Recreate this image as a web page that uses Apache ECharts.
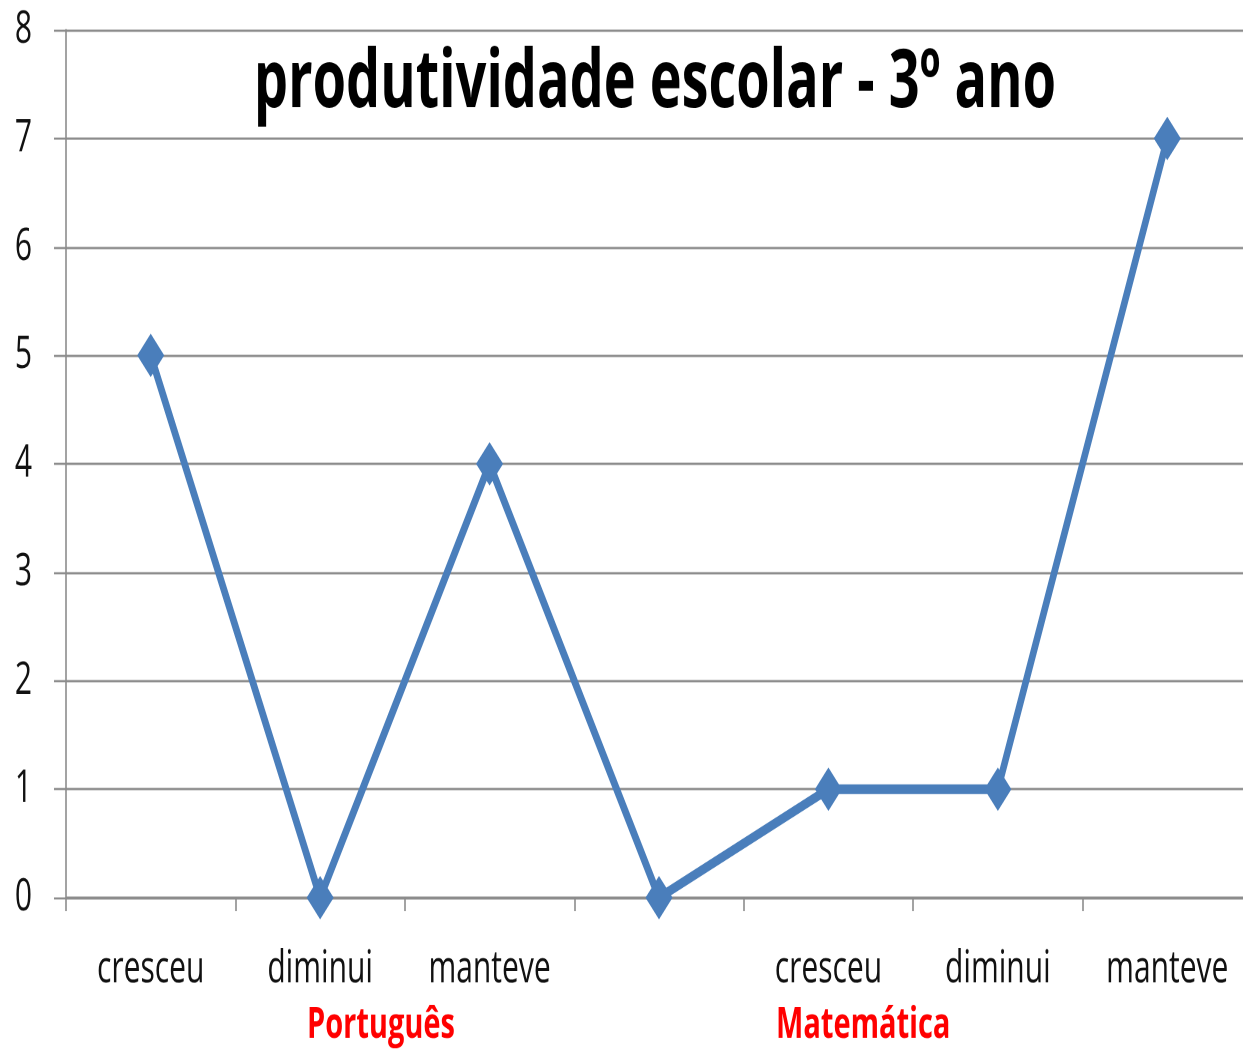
<!DOCTYPE html>
<html>
<head>
<meta charset="utf-8">
<script src="https://cdn.jsdelivr.net/npm/echarts@6/dist/echarts.min.js"></script>
<style>
  html, body { margin: 0; padding: 0; background: #fff; overflow: hidden; }
  #wrap { width: 1243px; height: 1049px; overflow: hidden; }
  /* the source picture is stretched vertically, so draw flat and stretch;
     the plot runs a few pixels past the right edge */
  #chart { width: 1252px; height: 700px; transform: scaleY(1.4986); transform-origin: 0 0; }
</style>
</head>
<body>
<div id="wrap"><div id="chart"></div></div>
<script>
var categories = ["cresceu", "diminui", "manteve", "", "cresceu", "diminui", "manteve"];
var values = [5, 0, 4, 0, 1, 1, 7];
var groupLabels = ["Português", "Matemática"];
var titleText = "produtividade escolar - 3º ano";

var font = "'Open Sans', 'Noto Sans', sans-serif";
var gray = "#8c8c8c";
var blue = "#4a7ebb";

var chart = echarts.init(document.getElementById("chart"), null, { renderer: "canvas", devicePixelRatio: 2 });

chart.setOption({
  backgroundColor: "#fff",
  animation: false,
  grid: { left: 66, right: 0, top: 20, bottom: 101 },
  xAxis: {
    type: "category",
    data: categories,
    boundaryGap: true,
    axisLine: { lineStyle: { color: gray, width: 1.6 } },
    axisTick: { show: true, length: 9, lineStyle: { color: gray, width: 1.6 } },
    axisLabel: { fontFamily: font, fontSize: 30, color: "#111", margin: 33, interval: 0 }
  },
  yAxis: {
    type: "value",
    min: 0,
    max: 8,
    interval: 1,
    axisLine: { show: true, lineStyle: { color: gray, width: 1.6 } },
    axisTick: { show: true, length: 12, lineStyle: { color: gray, width: 1.4 } },
    axisLabel: { fontFamily: font, fontSize: 30, color: "#111", margin: 34 },
    splitLine: { lineStyle: { color: gray, width: 1.4 } }
  },
  graphic: [
    { type: "text", x: 655, y: 56, style: { text: titleText, font: "bold 54px " + font, fill: "#000", align: "center", verticalAlign: "middle" } },
    { type: "text", x: 307, y: 684, style: { text: groupLabels[0], font: "bold 29px " + font, fill: "#ff0000", verticalAlign: "middle" } },
    { type: "text", x: 776, y: 684, style: { text: groupLabels[1], font: "bold 29px " + font, fill: "#ff0000", verticalAlign: "middle" } }
  ],
  series: [{
    type: "line",
    data: values,
    symbol: "diamond",
    symbolSize: [27, 29],
    lineStyle: { color: blue, width: 6.5 },
    itemStyle: { color: blue }
  }]
});
</script>
</body>
</html>
